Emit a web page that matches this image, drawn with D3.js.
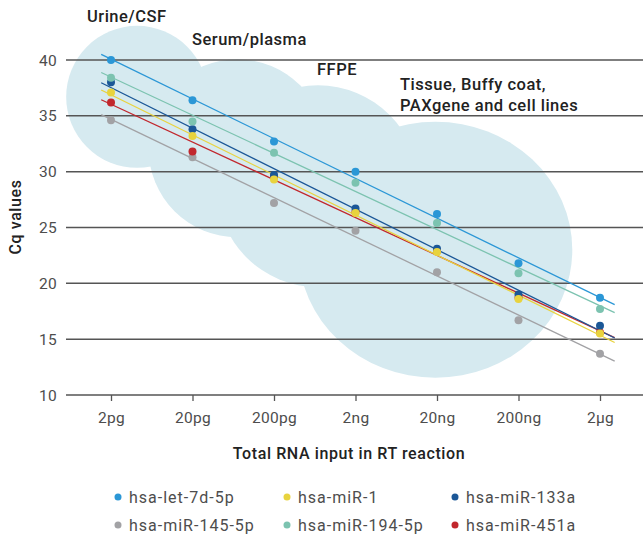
<!DOCTYPE html>
<html>
<head>
<meta charset="utf-8">
<script src="https://cdn.jsdelivr.net/npm/d3@7"></script>
<style>
  body { margin: 0; background: #fff; }
  text { font-family: Roboto, "Noto Sans", sans-serif; }
  .tick_label { font-size: 15.5px; fill: #4d4d4d; letter-spacing: 0.3px; }
  .axis_title { font-size: 16px; font-weight: 500; fill: #222; letter-spacing: 0.6px; }
  .group_name { font-size: 16.5px; font-weight: 500; fill: #222; letter-spacing: 0.5px; }
  .legend_label { font-size: 16px; fill: #4d4d4d; letter-spacing: 1px; }
</style>
</head>
<body>
<div id="svg_chart"></div>
<script>
// Data
const rna_inputs = ["2pg", "20pg", "200pg", "2ng", "20ng", "200ng", "2\u00b5g"];
const cq_ticks = [10, 15, 20, 25, 30, 35, 40];

const let_7d_5p  = [40.0, 36.4, 32.7, 30.0, 26.2, 21.8, 18.7];
const mir_1      = [37.1, 33.2, 29.3, 26.3, 22.8, 18.6, 15.5];
const mir_133a   = [38.0, 33.8, 29.7, 26.7, 23.1, 19.0, 16.2];
const mir_145_5p = [34.6, 31.3, 27.2, 24.7, 21.0, 16.7, 13.7];
const mir_194_5p = [38.4, 34.5, 31.7, 29.0, 25.4, 20.9, 17.7];
const mir_451a   = [36.2, 31.8, 29.6, 26.4, 22.9, 18.7, 15.6];

const series_names = ["hsa-let-7d-5p", "hsa-miR-1", "hsa-miR-133a",
                      "hsa-miR-145-5p", "hsa-miR-194-5p", "hsa-miR-451a"];
const series_values = [let_7d_5p, mir_1, mir_133a, mir_145_5p, mir_194_5p, mir_451a];
const series_colors = ["#2b97d6", "#e8d33e", "#1b5797", "#a2a2a5", "#7cc3b0", "#c1272d"];
// order the dots are stacked in (last on top)
const draw_order = [3, 5, 2, 1, 4, 0];

// sample type bubbles: centre in (input index, Cq), radius in index / Cq units
const sample_types = [["Urine/CSF"], ["Serum/plasma"], ["FFPE"],
                      ["Tissue, Buffy coat,", "PAXgene and cell lines"]];
const bubble_x  = [0.32, 1.55, 2.54, 3.98];
const bubble_y  = [36.7, 32.1, 28.7, 23.0];
const bubble_rx = [0.87, 1.09, 1.24, 1.68];
const bubble_ry = [6.36, 7.97, 9.04, 11.46];

// Env params
const svg_width = 643;
const svg_height = 537;
const plot_left = 66;
const plot_right = 643;

var svg = d3.select('#svg_chart').append('svg')
  .attr('width', svg_width)
  .attr('height', svg_height);

// scales
var x = d3.scaleLinear().domain([0, 6]).range([111, 600]);
var y = d3.scaleLinear().domain([10, 40]).range([395, 60]);

// bubbles behind everything
svg.append('g').selectAll('ellipse')
  .data(bubble_x)
  .enter().append('ellipse')
  .attr('cx', d => x(d))
  .attr('cy', (d, i) => y(bubble_y[i]))
  .attr('rx', (d, i) => x(bubble_rx[i]) - x(0))
  .attr('ry', (d, i) => y(0) - y(bubble_ry[i]))
  .attr('fill', '#d6eaf0');

// grid lines (the 10 line doubles as x axis)
svg.append('g').selectAll('line')
  .data(cq_ticks)
  .enter().append('line')
  .attr('x1', plot_left)
  .attr('x2', plot_right)
  .attr('y1', d => y(d))
  .attr('y2', d => y(d))
  .attr('stroke', '#555')
  .attr('stroke-width', 1.5);

// y tick labels
svg.append('g').selectAll('text')
  .data(cq_ticks)
  .enter().append('text')
  .attr('class', 'tick_label')
  .attr('x', 57)
  .attr('y', d => y(d))
  .attr('dy', '0.36em')
  .attr('text-anchor', 'end')
  .text(d => d);

// x axis ticks
var x_axis = svg.append('g')
  .attr('transform', `translate(0, ${y(10)})`)
  .call(d3.axisBottom(x)
    .tickValues(d3.range(rna_inputs.length))
    .tickFormat(i => rna_inputs[i])
    .tickSize(6)
    .tickPadding(11));
x_axis.select('.domain').remove();
x_axis.selectAll('.tick line').attr('stroke', '#555').attr('stroke-width', 1.3);
x_axis.selectAll('.tick text')
  .attr('class', 'tick_label')
  .attr('font-family', null)
  .attr('font-size', null)
  .attr('fill', null);

// axis titles
svg.append('text')
  .attr('class', 'axis_title')
  .attr('x', 349)
  .attr('y', 459)
  .attr('text-anchor', 'middle')
  .text('Total RNA input in RT reaction');

svg.append('text')
  .attr('class', 'axis_title')
  .attr('transform', 'translate(21, 217) rotate(-90)')
  .attr('text-anchor', 'middle')
  .text('Cq values');

// sample type names
const name_x = [87, 192, 317, 400];
const name_y = [22, 45, 75, 90];
sample_types.forEach((lines, i) => {
  var t = svg.append('text')
    .attr('class', 'group_name')
    .attr('x', name_x[i])
    .attr('y', name_y[i]);
  lines.forEach((s, j) => {
    t.append('tspan')
      .attr('x', name_x[i])
      .attr('dy', j === 0 ? 0 : 20.5)
      .text(s);
  });
});

// fitted lines (least squares over the 7 inputs)
function fit(values) {
  var n = values.length;
  var xm = d3.mean(d3.range(n));
  var ym = d3.mean(values);
  var sxy = d3.sum(values, (v, i) => (i - xm) * (v - ym));
  var sxx = d3.sum(d3.range(n), i => (i - xm) * (i - xm));
  var slope = sxy / sxx;
  return i => ym + slope * (i - xm);
}

var line_ends = [-0.12, 6.18];
var lines_g = svg.append('g');
draw_order.forEach(k => {
  var f = fit(series_values[k]);
  lines_g.append('path')
    .attr('d', d3.line().x(d => x(d)).y(d => y(f(d)))(line_ends))
    .attr('fill', 'none')
    .attr('stroke', series_colors[k])
    .attr('stroke-width', 1.3);
});

// dots
var dots_g = svg.append('g');
draw_order.forEach(k => {
  dots_g.selectAll(null)
    .data(series_values[k])
    .enter().append('circle')
    .attr('cx', (d, i) => x(i))
    .attr('cy', d => y(d))
    .attr('r', 4)
    .attr('fill', series_colors[k]);
});

// legend
const legend_x = [118, 287, 455];
const legend_y = [497, 525];
var legend = svg.append('g');
series_names.forEach((name, k) => {
  var cx = legend_x[k % 3];
  var cy = legend_y[Math.floor(k / 3)];
  legend.append('circle')
    .attr('cx', cx)
    .attr('cy', cy)
    .attr('r', 3.5)
    .attr('fill', series_colors[k]);
  legend.append('text')
    .attr('class', 'legend_label')
    .attr('x', cx + 11)
    .attr('y', cy)
    .attr('dy', '0.36em')
    .text(name);
});
</script>
</body>
</html>
